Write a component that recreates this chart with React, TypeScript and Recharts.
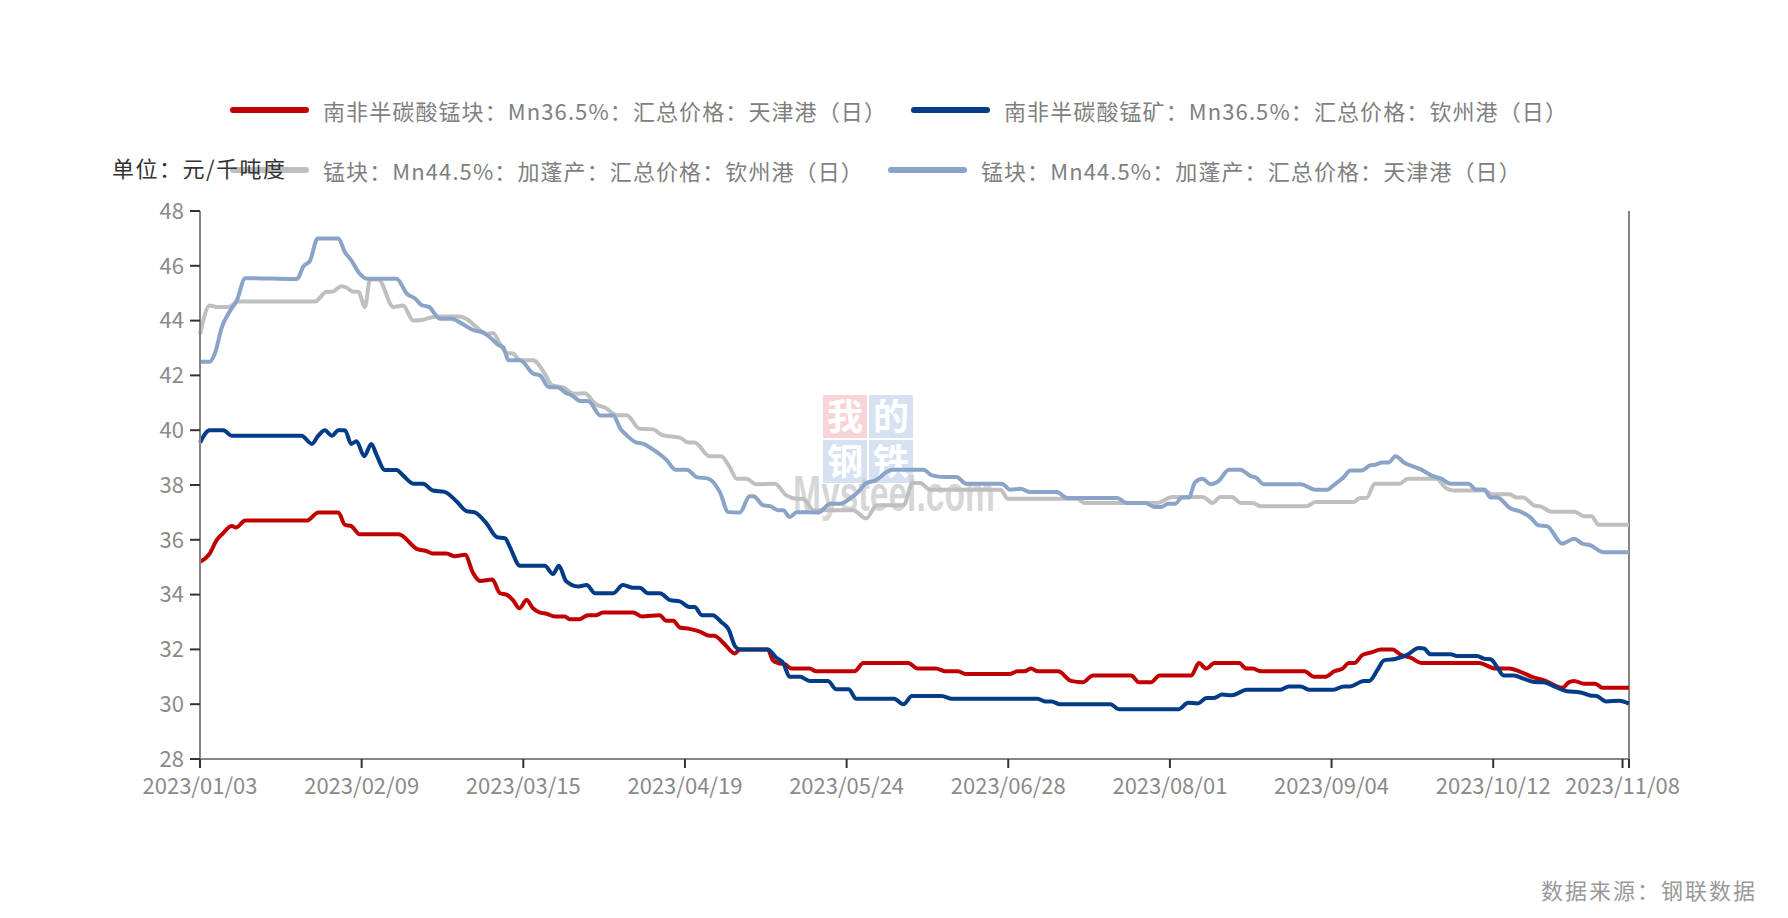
import { LineChart, Line, XAxis, YAxis, ReferenceLine } from 'recharts';

// x = trading-day index from 2023/01/03, y = 元/干吨度
const saLumpTianjin: [number, number][] = [
  [0, 35.2], [1.5, 35.5], [2.6, 36.0], [3.4, 36.2], [4.9, 36.5], [5.6, 36.45], [7, 36.7], [16.5, 36.7],
  [18.3, 37.0], [21.4, 37.0], [22.4, 36.55], [23.4, 36.5], [24.7, 36.2], [30.7, 36.2], [33.7, 35.65],
  [34.9, 35.6], [36, 35.5], [38.1, 35.5], [39.4, 35.4], [41, 35.45], [42.2, 34.8], [43.3, 34.5],
  [45.2, 34.55], [46.4, 34.05], [47.4, 34.0], [48.4, 33.8], [49.4, 33.5], [50.5, 33.8], [51.5, 33.5],
  [52.5, 33.35], [53.6, 33.3], [54.9, 33.2], [56.4, 33.2], [57.2, 33.1], [58.7, 33.1], [60, 33.25],
  [61.3, 33.25], [62.3, 33.35], [67, 33.35], [68.3, 33.2], [71.1, 33.25], [72.1, 33.05], [73.2, 33.05],
  [74.2, 32.8], [75.7, 32.75], [77.3, 32.65], [78.8, 32.5], [79.5, 32.5], [81.1, 32.2], [82.7, 31.85],
  [83.5, 32.0], [87.8, 32.0], [88.6, 31.6], [89.4, 31.5], [90.5, 31.45], [91.5, 31.3], [94.3, 31.3],
  [95.3, 31.2], [101.2, 31.2], [102.6, 31.5], [109.5, 31.5], [111, 31.3], [113.8, 31.3], [115.3, 31.2],
  [117.2, 31.2], [118.5, 31.1], [125.2, 31.1], [126.4, 31.2], [127.5, 31.2], [128.5, 31.3], [129.6, 31.2],
  [132.7, 31.2], [134.7, 30.85], [136.5, 30.8], [138.1, 31.05], [144, 31.05], [145.2, 30.8], [147.1, 30.8],
  [148.4, 31.05], [153.3, 31.05], [154.5, 31.5], [155.6, 31.3], [156.9, 31.5], [160.7, 31.5],
  [161.8, 31.3], [162.8, 31.3], [164.1, 31.2], [170.8, 31.2], [172.3, 31.0], [174.1, 31.0], [175.4, 31.2],
  [176.7, 31.3], [177.7, 31.5], [178.5, 31.5], [179.8, 31.8], [181.3, 31.9], [182.6, 32.0], [184.4, 32.0],
  [185.7, 31.8], [187.2, 31.7], [189, 31.5], [197.8, 31.5], [200.4, 31.3], [202.5, 31.3], [204, 31.2],
  [206, 31.0], [208.1, 30.85], [210.7, 30.6], [211.7, 30.8], [212.5, 30.85], [214, 30.75], [215.8, 30.75],
  [216.9, 30.6], [221, 30.6],
];

const saOreQinzhou: [number, number][] = [
  [0, 39.55], [1.5, 40.0], [3.6, 40.0], [4.9, 39.8], [15.7, 39.8], [17.3, 39.5], [18.3, 39.8], [19.3, 40.0],
  [20.4, 39.8], [21.4, 40.0], [22.4, 40.0], [23.4, 39.5], [24.2, 39.6], [25.4, 39.05], [26.5, 39.5],
  [27.3, 39.1], [28.6, 38.55], [30.4, 38.55], [31.4, 38.35], [33, 38.05], [34.5, 38.05], [36, 37.8],
  [37.8, 37.75], [39.7, 37.4], [41.2, 37.05], [42.5, 37.0], [44.3, 36.6], [45.9, 36.1], [47.2, 36.05],
  [47.9, 35.75], [49.5, 35.05], [53.3, 35.05], [54.6, 34.75], [55.5, 35.05], [56.6, 34.5], [58.5, 34.3],
  [59.8, 34.35], [61.1, 34.05], [63.9, 34.05], [65.4, 34.35], [67, 34.25], [68, 34.25], [69.3, 34.05],
  [71.1, 34.05], [72.7, 33.8], [74.2, 33.75], [75.7, 33.55], [76.5, 33.55], [77.6, 33.25], [79.3, 33.25],
  [80.6, 33.0], [81.7, 32.75], [82.8, 32.1], [83.5, 32.0], [87.8, 32.0], [89.1, 31.7], [90.2, 31.5],
  [91.2, 31.0], [92.8, 31.0], [94.3, 30.85], [97.1, 30.85], [98.4, 30.55], [100.3, 30.55], [101.5, 30.2],
  [107.3, 30.2], [108.8, 30.0], [110.1, 30.3], [114.7, 30.3], [116.3, 30.2], [129.5, 30.2], [130.7, 30.1],
  [131.7, 30.1], [133, 30.0], [140.8, 30.0], [142.1, 29.82], [151.4, 29.82], [152.8, 30.05], [154.3, 30.03],
  [155.7, 30.23], [156.8, 30.23], [158.1, 30.35], [159.6, 30.33], [161.9, 30.53], [167.1, 30.53],
  [168.4, 30.65], [170.2, 30.65], [171.5, 30.53], [175.3, 30.53], [176.9, 30.65], [177.9, 30.65],
  [180, 30.85], [180.8, 30.85], [182.1, 31.25], [183.1, 31.6], [184.8, 31.65], [186.7, 31.8], [188.5, 32.05],
  [189.3, 32.03], [190.3, 31.82], [193.4, 31.82], [194.4, 31.76], [197.5, 31.76], [198.6, 31.66],
  [199.6, 31.64], [200.6, 31.36], [201.6, 31.05], [203.2, 31.05], [204.7, 30.93], [206.3, 30.81],
  [207.8, 30.8], [209.6, 30.63], [211.4, 30.47], [213.5, 30.43], [215, 30.32], [216, 30.3], [217.5, 30.1],
  [219.5, 30.13], [221, 30.02],
];

const gabonQinzhou: [number, number][] = [
  [0, 43.5], [1.5, 44.55], [2.6, 44.5], [4.4, 44.5], [5.9, 44.7], [17.8, 44.7], [19.6, 45.05], [20.4, 45.05],
  [21.9, 45.25], [22.7, 45.2], [23.7, 45.05], [24.5, 45.05], [25.5, 44.5], [26.3, 45.5], [27.6, 45.5],
  [29.9, 44.5], [31.4, 44.55], [33, 44.0], [34.5, 44.03], [36.6, 44.15], [39.9, 44.15], [41.2, 44.07],
  [42.8, 43.75], [44.3, 43.5], [45.3, 43.55], [46.4, 43.15], [47.4, 42.82], [48.4, 42.8], [49.5, 42.55],
  [51.5, 42.55], [53.3, 42.07], [54.4, 41.65], [56.2, 41.55], [58, 41.33], [59.5, 41.35], [61.1, 40.97],
  [62.8, 40.8], [64.4, 40.55], [66, 40.55], [68, 40.05], [70.1, 40.03], [71.3, 39.84], [72.6, 39.78],
  [74.2, 39.73], [75.5, 39.55], [76.5, 39.55], [78.8, 39.05], [80.6, 39.05], [81.9, 38.66], [83, 38.23],
  [84.5, 38.23], [86, 38.03], [88.9, 38.05], [90.7, 37.62], [92.3, 37.5], [93.3, 37.5], [94.9, 37.08],
  [101, 37.08], [103, 36.78], [104.7, 37.26], [108.8, 37.26], [110.2, 38.07], [111.4, 38.07], [112.9, 37.83],
  [123.8, 37.83], [124.9, 37.5], [135.6, 37.5], [136.9, 37.34], [148, 37.34], [150.4, 37.56], [155.1, 37.56],
  [156.6, 37.34], [157.8, 37.56], [159.6, 37.56], [161, 37.34], [162.8, 37.34], [164.1, 37.22],
  [171.1, 37.22], [172.5, 37.38], [178.4, 37.38], [179.4, 37.53], [180.4, 37.53], [181.7, 38.05],
  [185.5, 38.05], [186.8, 38.23], [191.2, 38.23], [192.8, 37.87], [193.8, 37.8], [198.6, 37.8],
  [199.9, 37.66], [202.5, 37.66], [203.7, 37.54], [204.7, 37.54], [206.3, 37.26], [207.3, 37.22],
  [209.1, 37.02], [212.6, 37.02], [214.1, 36.86], [215.2, 36.86], [216.3, 36.55], [221, 36.55],
];

const gabonTianjin: [number, number][] = [
  [0, 42.5], [1.5, 42.5], [2.3, 42.8], [3.4, 43.77], [4.4, 44.26], [5.7, 44.74], [7, 45.55], [15, 45.52],
  [16, 45.98], [17, 46.18], [18.2, 47.0], [21.4, 47.0], [22.4, 46.5], [23.4, 46.2], [24.7, 45.71],
  [25.8, 45.53], [30.4, 45.53], [32, 44.98], [33.3, 44.8], [34.3, 44.56], [35.4, 44.5], [37.1, 44.07],
  [38.9, 44.07], [40.5, 43.89], [42.3, 43.65], [43.8, 43.57], [44.8, 43.4], [46.2, 43.1], [46.9, 43.03],
  [47.7, 42.55], [49.5, 42.55], [51.5, 42.07], [52.6, 42.0], [53.9, 41.58], [55.4, 41.56], [56.6, 41.36],
  [57.5, 41.27], [58.8, 41.07], [60.1, 41.06], [61.9, 40.54], [63.9, 40.54], [65, 40.06], [66, 39.81],
  [67.3, 39.57], [68.6, 39.5], [70.1, 39.29], [72.2, 38.9], [73.5, 38.56], [75.3, 38.56], [76.8, 38.29],
  [78.6, 38.23], [80.4, 37.74], [81.7, 37.01], [83.5, 37.0], [85, 37.59], [85.6, 37.59], [87.1, 37.26],
  [88.2, 37.23], [89.4, 37.08], [90.2, 37.08], [91.2, 36.83], [92.3, 37.01], [95.6, 37.0], [97.5, 37.32],
  [99, 37.32], [100.5, 37.5], [102, 37.8], [103, 38.07], [104.4, 38.16], [106.2, 38.47], [107, 38.56],
  [111.9, 38.56], [113.2, 38.35], [115.2, 38.29], [117, 38.29], [118.5, 38.05], [124, 38.05], [125.3, 37.83],
  [126.9, 37.86], [128.4, 37.74], [132.5, 37.74], [134.1, 37.53], [141.8, 37.53], [143.4, 37.34],
  [146.2, 37.34], [147.7, 37.2], [148.7, 37.2], [149.7, 37.32], [150.8, 37.32], [151.9, 37.54],
  [152.9, 37.54], [153.9, 38.1], [155, 38.23], [156.3, 38.03], [157.6, 38.16], [159.1, 38.56],
  [160.9, 38.56], [162.5, 38.32], [163.3, 38.27], [164.5, 38.03], [170.2, 38.03], [172.5, 37.83],
  [174.3, 37.83], [175.3, 37.99], [176.9, 38.29], [177.9, 38.53], [179.7, 38.53], [181, 38.72],
  [181.8, 38.74], [182.8, 38.82], [183.8, 38.82], [184.9, 39.05], [186.2, 38.82], [188.8, 38.57],
  [190.6, 38.33], [191.9, 38.24], [193.4, 38.05], [196.2, 38.05], [197.3, 37.84], [198.6, 37.84],
  [199.6, 37.54], [200.6, 37.54], [202.7, 37.14], [204.2, 37.03], [205.7, 36.83], [207, 36.53],
  [208.3, 36.5], [210.7, 35.86], [212.5, 36.04], [213.8, 35.86], [215, 35.8], [217.1, 35.55], [221, 35.55],
];

const xTickIndex = [0, 25, 50, 75, 100, 125, 150, 175, 200, 220, 221];
const xTickLabels = [
  '2023/01/03', '2023/02/09', '2023/03/15', '2023/04/19', '2023/05/24',
  '2023/06/28', '2023/08/01', '2023/09/04', '2023/10/12', '2023/11/08', '',
];
const yTicks = [28, 30, 32, 34, 36, 38, 40, 42, 44, 46, 48];

const series = [
  { key: 'saLumpTianjin', name: '南非半碳酸锰块：Mn36.5%：汇总价格：天津港（日）', color: '#C00000', points: saLumpTianjin },
  { key: 'saOreQinzhou', name: '南非半碳酸锰矿：Mn36.5%：汇总价格：钦州港（日）', color: '#023B86', points: saOreQinzhou },
  { key: 'gabonQinzhou', name: '锰块：Mn44.5%：加蓬产：汇总价格：钦州港（日）', color: '#BFBFBF', points: gabonQinzhou },
  { key: 'gabonTianjin', name: '锰块：Mn44.5%：加蓬产：汇总价格：天津港（日）', color: '#8AA3C8', points: gabonTianjin },
];

// one table keyed by index; series without a point at an index get null
const allIndex = Array.from(new Set(series.flatMap((s) => s.points.map((p) => p[0])))).sort((a, b) => a - b);
const chartData = allIndex.map((i) => {
  const row: Record<string, number | null> = { i };
  series.forEach((s) => {
    const p = s.points.find((q) => q[0] === i);
    row[s.key] = p ? p[1] : null;
  });
  return row;
});

const FONT = '"Noto Sans CJK SC", "Noto Sans", sans-serif';

function LegendRow({ items, top }: { items: typeof series; top: number }) {
  return (
    <div style={{ position: 'absolute', left: 230, top, height: 30, display: 'flex', alignItems: 'center' }}>
      {items.map((s) => (
        <div key={s.key} style={{ display: 'flex', alignItems: 'center', marginRight: 24 }}>
          <span style={{ width: 79, height: 6, borderRadius: 3, background: s.color, marginRight: 14 }} />
          <span style={{ fontSize: 22, lineHeight: '30px', color: '#808080', letterSpacing: 1.1, whiteSpace: 'nowrap' }}>
            {s.name}
          </span>
        </div>
      ))}
    </div>
  );
}

function Watermark() {
  return (
    <svg width={1788} height={918} style={{ position: 'absolute', left: 0, top: 0 }}>
      <rect x={823} y={395} width={44} height={43} fill="#f8d4d8" />
      <rect x={869} y={395} width={44} height={43} fill="#d6e2f1" />
      <rect x={823} y={440} width={44} height={43} fill="#d6e2f1" />
      <rect x={869} y={440} width={44} height={43} fill="#d6e2f1" />
      <g fill="#ffffff" fontSize={36} fontWeight={700} textAnchor="middle" fontFamily={FONT}>
        <text x={845} y={430}>我</text>
        <text x={891} y={430}>的</text>
        <text x={845} y={475}>钢</text>
        <text x={891} y={475}>铁</text>
      </g>
      <text x={793} y={511} fontSize={50} fontWeight={700} fill="#cfcfcf" fillOpacity={0.85}
        fontFamily="Liberation Sans, sans-serif" textLength={202} lengthAdjust="spacingAndGlyphs">
        Mysteel.com
      </text>
    </svg>
  );
}

export default function App() {
  return (
    <div style={{ position: 'relative', width: 1788, height: 918, fontFamily: FONT, background: '#fff' }}>
      <style>{'body{margin:0}'}</style>
      <Watermark />
      <div style={{ position: 'absolute', left: 0, top: 0 }}>
        <LineChart width={1788} height={918} data={chartData} margin={{ top: 211, right: 159, bottom: 119, left: 120 }}>
          <XAxis
            dataKey="i"
            type="number"
            domain={[0, 221]}
            ticks={xTickIndex}
            interval={0}
            tickFormatter={(v: number) => xTickLabels[xTickIndex.indexOf(v)] ?? ''}
            height={40}
            tickSize={9}
            tickMargin={10}
            axisLine={{ stroke: '#858585', strokeWidth: 2 }}
            tickLine={{ stroke: '#333333', strokeWidth: 2 }}
            tick={{ fill: '#8a8a8a', fontSize: 22 }}
          />
          <YAxis
            type="number"
            domain={[28, 48]}
            ticks={yTicks}
            interval={0}
            width={80}
            tickSize={10}
            tickMargin={6}
            axisLine={{ stroke: '#858585', strokeWidth: 2 }}
            tickLine={{ stroke: '#333333', strokeWidth: 2 }}
            tick={{ fill: '#8a8a8a', fontSize: 22 }}
          />
          <ReferenceLine x={221} stroke="#858585" strokeWidth={2} />
          {series.map((s) => (
            <Line
              key={s.key}
              dataKey={s.key}
              name={s.name}
              type="monotone"
              stroke={s.color}
              strokeWidth={4}
              dot={false}
              connectNulls
              isAnimationActive={false}
            />
          ))}
        </LineChart>
      </div>
      <LegendRow items={series.slice(0, 2)} top={95} />
      <LegendRow items={series.slice(2)} top={155} />
      <div style={{ position: 'absolute', left: 112, top: 152, fontSize: 22, lineHeight: '30px', color: '#333', letterSpacing: 1.5 }}>
        单位：元/千吨度
      </div>
      <div style={{ position: 'absolute', left: 1541, top: 874, fontSize: 22, lineHeight: '30px', color: '#999', letterSpacing: 2 }}>
        数据来源：钢联数据
      </div>
    </div>
  );
}
